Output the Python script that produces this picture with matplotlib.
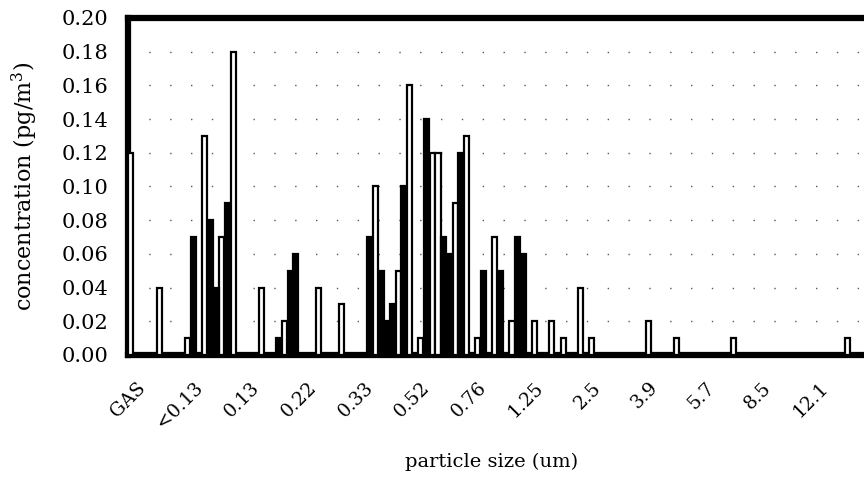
import numpy as np
import matplotlib
matplotlib.use("Agg")
import matplotlib.pyplot as plt

plt.rcParams['font.family'] = ['DejaVu Serif']
plt.rcParams['mathtext.fontset'] = 'dejavuserif'

categories = ['GAS', '<0.13', '0.13', '0.22', '0.33', '0.52', '0.76',
              '1.25', '2.5', '3.9', '5.7', '8.5', '12.1']

# concentration per size fraction, 10 sample positions per fraction
open_bars = [
    [0.12, 0, 0, 0, 0, 0.04, 0, 0, 0, 0],
    [0.01, 0, 0, 0.13, 0, 0, 0.07, 0, 0.18, 0],
    [0, 0, 0, 0.04, 0, 0, 0, 0.02, 0, 0],
    [0, 0, 0, 0.04, 0, 0, 0, 0.03, 0, 0],
    [0, 0, 0, 0.10, 0, 0, 0, 0.05, 0, 0.16],
    [0, 0.01, 0, 0.12, 0.12, 0, 0, 0.09, 0, 0.13],
    [0, 0.01, 0, 0, 0.07, 0, 0, 0.02, 0, 0],
    [0, 0.02, 0, 0, 0.02, 0, 0.01, 0, 0, 0.04],
    [0, 0.01, 0, 0, 0, 0, 0, 0, 0, 0],
    [0, 0.02, 0, 0, 0, 0, 0.01, 0, 0, 0],
    [0, 0, 0, 0, 0, 0, 0.01, 0, 0, 0],
    [0, 0, 0, 0, 0, 0, 0, 0, 0, 0],
    [0, 0, 0, 0, 0, 0, 0.01, 0, 0, 0],
]
solid_bars = [
    [0, 0, 0, 0, 0, 0, 0, 0, 0, 0],
    [0, 0.07, 0, 0, 0.08, 0.04, 0, 0.09, 0, 0],
    [0, 0, 0, 0, 0, 0, 0.01, 0, 0.05, 0.06],
    [0, 0, 0, 0, 0, 0, 0, 0, 0, 0],
    [0, 0, 0.07, 0, 0.05, 0.02, 0.03, 0, 0.10, 0],
    [0, 0, 0.14, 0, 0, 0.07, 0.06, 0, 0.12, 0],
    [0, 0, 0.05, 0, 0, 0.05, 0, 0, 0.07, 0.06],
    [0, 0, 0, 0, 0, 0, 0, 0, 0, 0],
    [0, 0, 0, 0, 0, 0, 0, 0, 0, 0],
    [0, 0, 0, 0, 0, 0, 0, 0, 0, 0],
    [0, 0, 0, 0, 0, 0, 0, 0, 0, 0],
    [0, 0, 0, 0, 0, 0, 0, 0, 0, 0],
    [0, 0, 0, 0, 0, 0, 0, 0, 0, 0],
]
y_ticks = [0.00, 0.02, 0.04, 0.06, 0.08, 0.10, 0.12, 0.14, 0.16, 0.18, 0.20]

n_groups = len(categories)
n_slots = len(open_bars[0])
ov = np.array(open_bars).ravel()
sv = np.array(solid_bars).ravel()
x = np.arange(n_groups * n_slots)

fig = plt.figure(figsize=(8.64, 4.78), dpi=100)
ax = fig.add_axes([128/864, 1-355/478, 1-128/864 + 0.004, (355-18)/478])

ax.set_axisbelow(True)
ax.yaxis.grid(True, linestyle=(0, (1, 14)), linewidth=1.0, color='0.35')

m = ov > 0
ax.bar(x[m], ov[m], width=0.9, facecolor='white', edgecolor='black', linewidth=1.6, zorder=3)
m = sv > 0
ax.bar(x[m], sv[m], width=0.9, facecolor='black', edgecolor='black', linewidth=1.6, zorder=3)

ax.set_xlim(-0.5, n_groups * n_slots - 0.5)
ax.set_ylim(0, 0.20)
ax.set_yticks(y_ticks)
ax.set_yticklabels([f"{v:.2f}" for v in y_ticks], fontsize=15)
ax.set_xticks(np.arange(n_groups) * n_slots + 1)
ax.set_xticklabels(categories, fontsize=13.5, rotation=45, ha='right', va='top',
                   rotation_mode='anchor')
ax.tick_params(axis='both', length=0)
ax.tick_params(axis='x', pad=17)
ax.tick_params(axis='y', pad=14)

for side in ['top', 'left', 'bottom', 'right']:
    ax.spines[side].set_linewidth(4.5)
    ax.spines[side].set_color('black')

fig.text(25/864, 1-186/478, 'concentration (pg/m$^3$)', rotation=90,
         ha='center', va='center', fontsize=16)
fig.text(492/864, 1-462/478, 'particle size (um)', ha='center', va='center', fontsize=14)

fig.savefig('out.png', dpi=100)
